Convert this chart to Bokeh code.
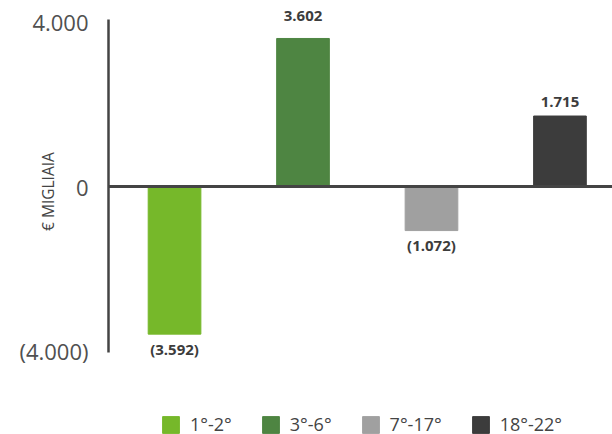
from bokeh.plotting import figure
from bokeh.layouts import column
from bokeh.models import (ColumnDataSource, Range1d, FixedTicker, Span, Legend,
                          LegendItem)
from bokeh.core.properties import value
from bokeh.embed import file_html
from bokeh.resources import INLINE

# ---- data ----
categories = ["1°-2°", "3°-6°", "7°-17°", "18°-22°"]
values = [-3592, 3602, -1072, 1715]
colors = ["#76B82A", "#4E8542", "#A0A0A0", "#3C3C3C"]
tick_values = [-4000, 0, 4000]
tick_labels = ["(4.000)", "0", "4.000"]
y_title = "€ MIGLIAIA"

# ---- styling ----
label_gaps = [15, 22, 14, 14]


def fmt(v):
    s = f"{abs(v):,}".replace(",", ".")
    return f"({s})" if v < 0 else s


xs = list(range(len(categories)))
src = ColumnDataSource(dict(
    x=xs, top=values, color=colors, cat=categories,
    label=[fmt(v) for v in values],
    yoff=[(-g if v >= 0 else g) for v, g in zip(values, label_gaps)],
))

# ---- main chart ----
p = figure(width=612, height=382, output_backend="svg", toolbar_location=None,
           x_range=Range1d(-0.514, 3.409), y_range=Range1d(-4769, 4526),
           min_border_left=108, min_border_right=0, min_border_top=0,
           min_border_bottom=0)
p.outline_line_color = None
p.grid.visible = False
p.xaxis.visible = False
p.background_fill_color = "white"
p.border_fill_color = "white"

r = p.vbar(x="x", top="top", bottom=0, width=0.41, color="color", source=src)

p.text(x="x", y="top", text="label", y_offset="yoff", source=src,
       text_align="center", text_baseline="middle",
       text_font=value("Open Sans"), text_font_style="bold",
       text_font_size="15px", text_color="#3c3c3c")

p.add_layout(Span(location=0, dimension="width", line_color="#444444",
                  line_width=3))

ax = p.yaxis[0]
ax.ticker = FixedTicker(ticks=tick_values)
ax.major_label_overrides = {t: l for t, l in zip(tick_values, tick_labels)}
ax.bounds = (-4039, 4063)
ax.major_tick_line_color = None
ax.minor_tick_line_color = None
ax.major_tick_out = 0
ax.major_tick_in = 0
ax.major_label_standoff = 20
ax.axis_line_color = "#444444"
ax.axis_line_width = 2.5
ax.major_label_text_font = "Open Sans"
ax.major_label_text_font_size = "22px"
ax.major_label_text_color = "#505050"
ax.axis_label = y_title
ax.axis_label_standoff = -43
ax.axis_label_text_font = "Open Sans"
ax.axis_label_text_font_style = "normal"
ax.axis_label_text_font_size = "15.5px"
ax.axis_label_text_color = "#444444"

# ---- legend strip (its bars lie outside its view; only the legend shows) ----
q = figure(width=612, height=52, output_backend="svg", toolbar_location=None,
           x_range=Range1d(100, 101), y_range=Range1d(20000, 20001),
           min_border_left=108, min_border_right=0, min_border_top=0,
           min_border_bottom=0)
q.outline_line_color = None
q.grid.visible = False
q.axis.visible = False
q.background_fill_color = "white"
q.border_fill_color = "white"
rq = q.vbar(x="x", top="top", bottom=0, width=0.41, color="color", source=src)

items = [LegendItem(label=c, renderers=[rq], index=i)
         for i, c in enumerate(categories)]
legend = Legend(items=items, orientation="horizontal", location=(52, -2),
                glyph_width=21, glyph_height=21, label_height=21,
                label_standoff=9, spacing=28, padding=0, margin=0,
                border_line_color=None, background_fill_alpha=0,
                label_text_font="Open Sans", label_text_font_size="18px",
                label_text_color="#444444")
q.add_layout(legend)

layout = column(p, q, spacing=0)
open("out.html", "w").write(file_html(layout, INLINE))
